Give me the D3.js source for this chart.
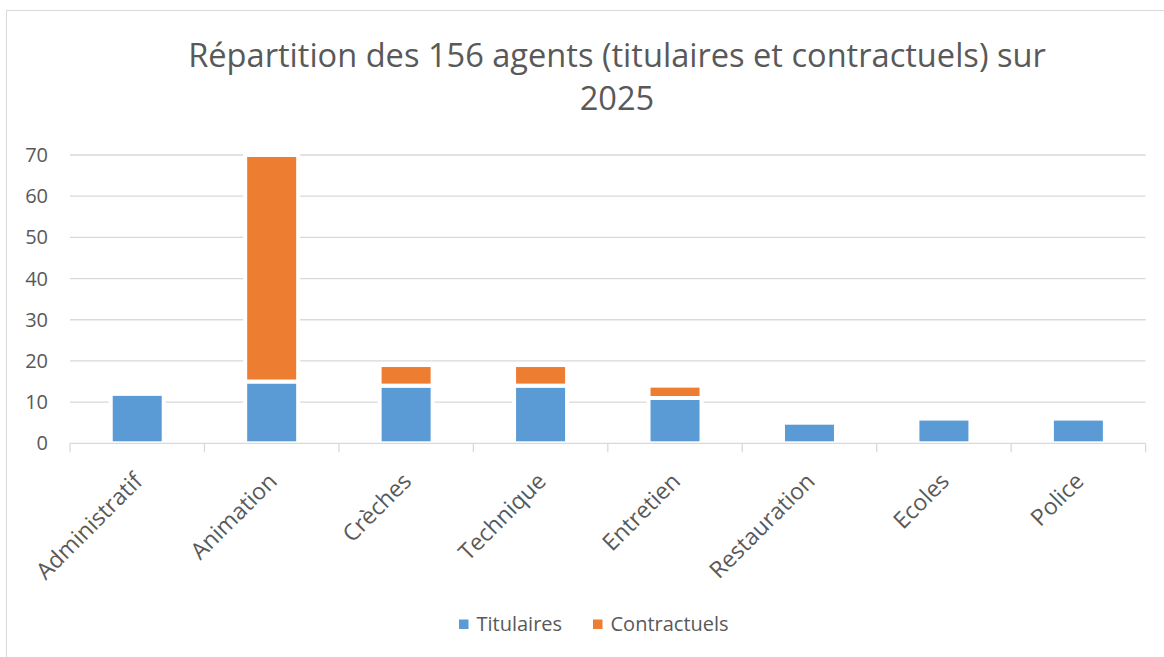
<!DOCTYPE html>
<html lang="fr">
<head>
<meta charset="utf-8">
<title>Répartition des agents</title>
<script src="https://cdn.jsdelivr.net/npm/d3@7"></script>
<style>
  body { margin: 0; background: #fff; }
  text { font-family: "Open Sans", sans-serif; fill: #595959; }
</style>
</head>
<body>
<script>
// data
var categories = ["Administratif", "Animation", "Crèches", "Technique", "Entretien", "Restauration", "Ecoles", "Police"];
var titulaires = [12, 15, 14, 14, 11, 5, 6, 6];
var contractuels = [0, 55, 5, 5, 3, 0, 0, 0];
var seriesNames = ["Titulaires", "Contractuels"];
var seriesColors = ["#5b9bd5", "#ed7d31"];
var yTicks = [0, 10, 20, 30, 40, 50, 60, 70];
var titleLines = ["Répartition des 156 agents (titulaires et contractuels) sur", "2025"];

var width = 1164, height = 657;

var svg = d3.select("body").append("svg")
    .attr("width", width)
    .attr("height", height);

// outer chart border
svg.append("rect")
    .attr("x", 6.5).attr("y", 10.5)
    .attr("width", 1200).attr("height", 700)
    .attr("fill", "#fff")
    .attr("stroke", "#d9d9d9");

var x = d3.scaleBand()
    .domain(categories)
    .range([70, 1145.6]);

var y = d3.scaleLinear()
    .domain([0, 70])
    .range([443.3, 155]);

// title
svg.append("g").selectAll("text")
    .data(titleLines)
    .enter().append("text")
    .attr("x", 617)
    .attr("y", function(d, i) { return 67 + i * 43; })
    .attr("text-anchor", "middle")
    .style("font-size", "32.6px")
    .text(function(d) { return d; });

// gridlines
svg.append("g").selectAll("line")
    .data(yTicks.slice(1))
    .enter().append("line")
    .attr("x1", 70).attr("x2", 1145.6)
    .attr("y1", function(d) { return y(d); })
    .attr("y2", function(d) { return y(d); })
    .attr("stroke", "#d9d9d9")
    .attr("stroke-width", 1.3);

// y labels
svg.append("g").selectAll("text")
    .data(yTicks)
    .enter().append("text")
    .attr("x", 48)
    .attr("y", function(d) { return y(d); })
    .attr("dy", "0.35em")
    .attr("text-anchor", "end")
    .style("font-size", "20px")
    .text(function(d) { return d; });

// stacked bars
var table = categories.map(function(c, i) {
  return { cat: c, Titulaires: titulaires[i], Contractuels: contractuels[i] };
});
var stacked = d3.stack().keys(seriesNames)(table);
var barW = 53;

svg.append("g").selectAll("g")
    .data(stacked)
    .enter().append("g")
    .attr("fill", function(d, i) { return seriesColors[i]; })
    .selectAll("rect")
    .data(function(d) { return d; })
    .enter().append("rect")
    .attr("x", function(d) { return x(d.data.cat) + x.bandwidth() / 2 - barW / 2; })
    .attr("width", barW)
    .attr("y", function(d) { return y(d[1]); })
    .attr("height", function(d) { return y(d[0]) - y(d[1]); })
    .attr("stroke", "#fff")
    .attr("stroke-width", 4);

// x axis line and ticks
var axisG = svg.append("g");
axisG.append("line")
    .attr("x1", 70).attr("x2", 1145.6)
    .attr("y1", y(0)).attr("y2", y(0))
    .attr("stroke", "#d9d9d9")
    .attr("stroke-width", 1.3);
axisG.selectAll("line.tick")
    .data(categories.map(function(c) { return x(c); }).concat([x.range()[1]]))
    .enter().append("line")
    .attr("class", "tick")
    .attr("x1", function(d) { return d; }).attr("x2", function(d) { return d; })
    .attr("y1", y(0)).attr("y2", y(0) + 9)
    .attr("stroke", "#d9d9d9")
    .attr("stroke-width", 1.3);

// category labels, rotated
axisG.selectAll("text")
    .data(categories)
    .enter().append("text")
    .attr("text-anchor", "end")
    .attr("dy", "0.35em")
    .attr("transform", function(d) {
      return "translate(" + (x(d) + x.bandwidth() / 2 + 1) + "," + 477 + ") rotate(-45)";
    })
    .style("font-size", "23px")
    .text(function(d) { return d; });

// legend
var legend = svg.append("g");
var legendX = [459, 593];
seriesNames.forEach(function(name, i) {
  legend.append("rect")
      .attr("x", legendX[i]).attr("y", 619.5)
      .attr("width", 9.5).attr("height", 9.5)
      .attr("fill", seriesColors[i]);
  legend.append("text")
      .attr("x", legendX[i] + 17.5).attr("y", 631)
      .style("font-size", "20px")
      .text(name);
});
</script>
</body>
</html>
